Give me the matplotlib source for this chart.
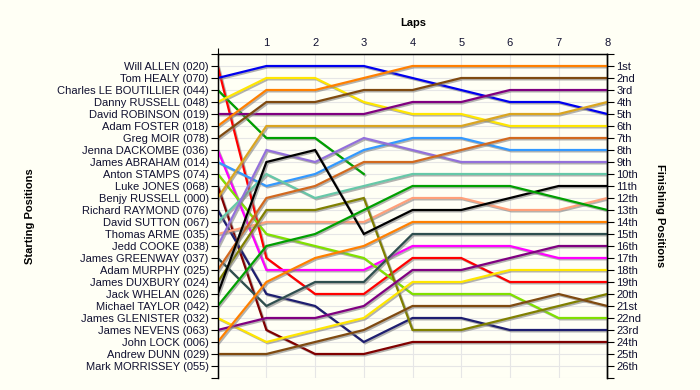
import matplotlib
matplotlib.use("Agg")
import matplotlib.pyplot as plt
import matplotlib.patheffects as pe

plt.rcParams['font.family'] = ['Liberation Sans', 'DejaVu Sans']

# --- Data: drivers in starting order, position after each lap (lap 0 = grid) ---
drivers = [
    "Will ALLEN (020)", "Tom HEALY (070)", "Charles LE BOUTILLIER (044)",
    "Danny RUSSELL (048)", "David ROBINSON (019)", "Adam FOSTER (018)",
    "Greg MOIR (078)", "Jenna DACKOMBE (036)", "James ABRAHAM (014)",
    "Anton STAMPS (074)", "Luke JONES (068)", "Benjy RUSSELL (000)",
    "Richard RAYMOND (076)", "David SUTTON (067)", "Thomas ARME (035)",
    "Jedd COOKE (038)", "James GREENWAY (037)", "Adam MURPHY (025)",
    "James DUXBURY (024)", "Jack WHELAN (026)", "Michael TAYLOR (042)",
    "James GLENISTER (032)", "James NEVENS (063)", "John LOCK (006)",
    "Andrew DUNN (029)", "Mark MORRISSEY (055)",
]

lap_positions = [
    [1, 17, 20, 20, 17, 17, 19, 19, 19],
    [2, 1, 1, 1, 2, 3, 4, 4, 5],
    [3, 7, 7, 10],
    [4, 2, 2, 4, 5, 5, 6, 6, 6],
    [5, 5, 5, 5, 4, 4, 3, 3, 3],
    [6, 3, 3, 2, 1, 1, 1, 1, 1],
    [7, 4, 4, 3, 3, 2, 2, 2, 2],
    [8, 18, 18, 18, 16, 16, 16, 17, 17],
    [9, 11, 10, 8, 7, 7, 8, 8, 8],
    [10, 15, 16, 17, 20, 20, 20, 22, 22],
    [11, 23, 25, 25, 24, 24, 24, 24, 24],
    [12, 6, 6, 6, 6, 6, 5, 5, 4],
    [13, 20, 21, 24, 22, 22, 23, 23, 23],
    [14, 10, 12, 11, 10, 10, 10, 10, 10],
    [15, 14, 14, 14, 12, 12, 13, 13, 12],
    [16, 8, 9, 7, 8, 9, 9, 9, 9],
    [17, 21, 19, 19, 15, 15, 15, 15, 15],
    [18, 12, 11, 9, 9, 8, 7, 7, 7],
    [19, 13, 13, 12, 23, 23, 22, 21, 20],
    [20, 9, 8, 15, 13, 13, 12, 11, 11],
    [21, 16, 15, 13, 11, 11, 11, 12, 13],
    [22, 24, 23, 22, 19, 19, 18, 18, 18],
    [23, 22, 22, 21, 18, 18, 17, 16, 16],
    [24, 19, 17, 16, 14, 14, 14, 14, 14],
    [25, 25, 24, 23, 21, 21, 21, 20, 21],
    [],
]

finish_labels = ["1st", "2nd", "3rd"] + [f"{n}th" for n in range(4, 21)] + \
    ["21st", "22nd", "23rd", "24th", "25th", "26th"]

laps = 8

# line colours, one per driver
colors = [
    "#FF0000", "#0000EE", "#00A000", "#FFE600", "#800080", "#FF8000",
    "#7F4A10", "#FF00FF", "#3399FF", "#80E000", "#800000", "#DAA520",
    "#1E1E70", "#66C8A8", "#FFA07A", "#9370DB", "#2F4F4F", "#D2691E",
    "#808000", "#000000", "#00A000", "#FFE600", "#800080", "#FF8000",
    "#7F4A10", "#FF0000",
]

bg = "#FFFFF5"
txt = "#101030"

fig = plt.figure(figsize=(7, 3.9), dpi=100, facecolor=bg)
ax = fig.add_axes([0.311, 0.0308, 0.5566, 0.8307])
ax.set_facecolor(bg)

shadow = [pe.SimpleLineShadow(offset=(1, -1), shadow_color="#808080", alpha=0.6), pe.Normal()]
for pos, c in zip(lap_positions, colors):
    if not pos:
        continue
    ax.plot(range(len(pos)), pos, color=c, lw=1.6, solid_joinstyle='miter',
            path_effects=shadow, zorder=3)

n = len(drivers)
ax.set_xlim(0, laps)
ax.set_ylim(n + 1, 0)

# grid
for x in range(1, laps):
    ax.axvline(x, color="#E6E6E6", lw=0.8, zorder=1)
for y in range(1, n + 2):
    ax.axhline(y, color="#E6E6E6", lw=0.8, zorder=1)

# left axis: starting positions
ax.set_yticks(range(0, n + 2))
ax.set_yticklabels([""] + drivers + [""])
ax.tick_params(axis='y', length=5, width=0.8, pad=1.5, labelsize=8, labelcolor=txt, color="black")

# top axis: laps
ax.xaxis.tick_top()
ax.set_xticks(range(1, laps + 1))
ax.set_xticklabels([str(i) for i in range(1, laps + 1)])
ax.tick_params(axis='x', length=0, pad=4, labelsize=8, labelcolor=txt)
ax.set_xticks([0], minor=True)
ax.tick_params(axis='x', which='minor', length=8, direction='inout', width=0.8, top=True)

for s in ["bottom"]:
    ax.spines[s].set_visible(False)
for s in ["top", "left", "right"]:
    ax.spines[s].set_linewidth(1.0)

# right axis: finishing positions
ax2 = ax.twinx()
ax2.set_ylim(n + 1, 0)
ax2.set_yticks(range(0, n + 2))
ax2.set_yticklabels([""] + finish_labels + [""])
ax2.tick_params(axis='y', length=5, width=0.8, pad=1.5, labelsize=8, labelcolor=txt)
ax2.spines["bottom"].set_visible(False)
ax2.spines["right"].set_linewidth(1.0)

fig.text(0.59, 0.94, "Laps", ha="center", va="center", fontsize=8, fontweight="bold", color="black")
fig.text(0.043, 0.447, "Starting Positions", ha="center", va="center", rotation=90,
         fontsize=8, fontweight="bold", color="black")
fig.text(0.943, 0.447, "Finishing Positions", ha="center", va="center", rotation=270,
         fontsize=8, fontweight="bold", color="black")

fig.savefig("out.png", dpi=100, facecolor=bg)
